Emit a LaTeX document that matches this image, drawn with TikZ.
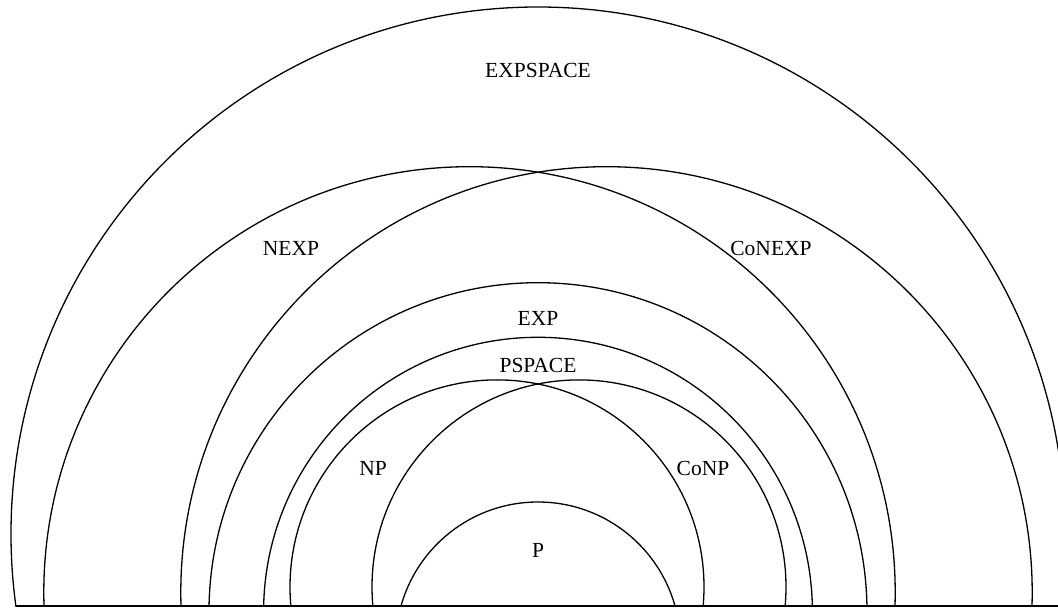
\documentclass[tikz,border=0pt]{standalone}
\usepackage{fontspec}
\setmainfont{Liberation Serif}
\begin{document}
\begin{tikzpicture}[x=1pt,y=1pt,
  ring/.style={draw=black,line width=1.3pt},
  lbl/.style={font=\fontsize{21.5}{25}\selectfont,inner sep=0pt}]
\useasboundingbox (0,0) rectangle (1058,611);
\begin{scope}
  \clip (0,5) rectangle (1058,611);
  \draw[ring] (538,77) circle[radius=527];       % EXPSPACE
  \draw[ring] (469.5,18.6) circle[radius=425.7]; % NEXP
  \draw[ring] (606.5,18.6) circle[radius=425.7]; % CoNEXP
  \draw[ring] (538,-0.7) circle[radius=329];     % EXP
  \draw[ring] (538,-0.7) circle[radius=274.4];   % PSPACE
  \draw[ring] (497,24.1) circle[radius=207];     % NP
  \draw[ring] (579,24.1) circle[radius=207];     % CoNP
  \draw[ring] (538,-33.2) circle[radius=142.2];  % P
\end{scope}
\coordinate (bl) at (16,5);
\coordinate (br) at (1058,5);
\draw[ring] (bl) -- (br);
\node[lbl] (expspace) at (538,541) {EXPSPACE};
\node[lbl] (nexp) at (291,363) {NEXP};
\node[lbl] (conexp) at (771,363) {CoNEXP};
\node[lbl] (exp) at (538,293) {EXP};
\node[lbl] (pspace) at (538,246) {PSPACE};
\node[lbl] (np) at (373,143) {NP};
\node[lbl] (conp) at (703,143) {CoNP};
\node[lbl] (p) at (538,61) {P};
\end{tikzpicture}
\end{document}
